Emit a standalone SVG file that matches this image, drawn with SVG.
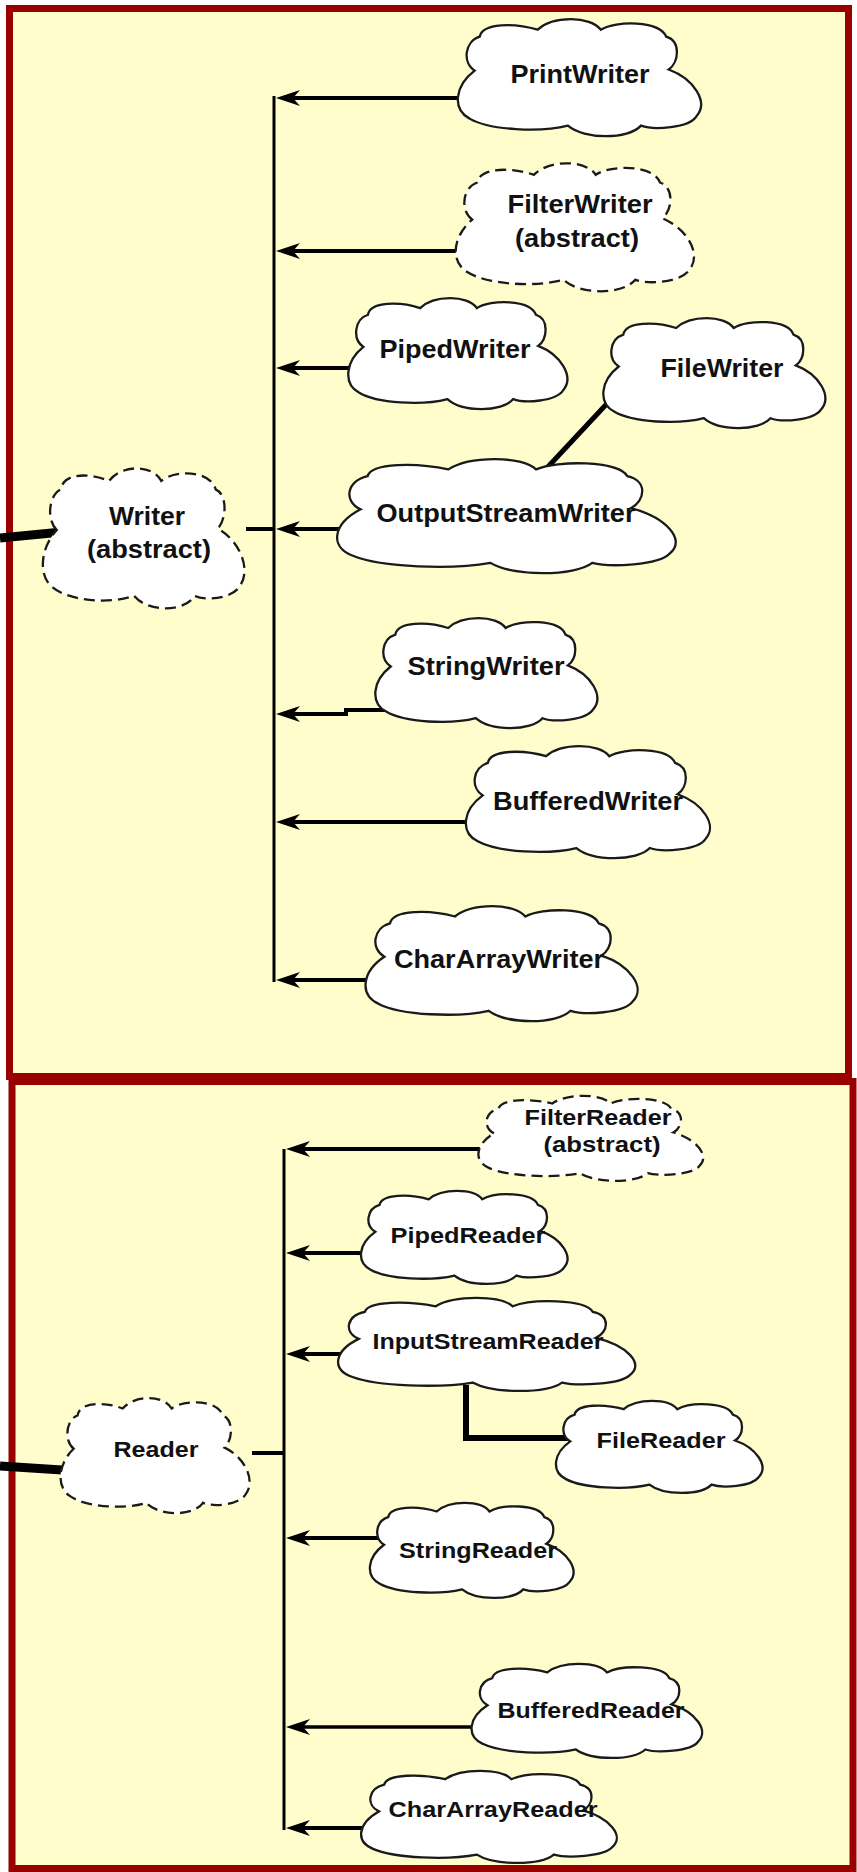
<svg xmlns="http://www.w3.org/2000/svg" xmlns:xlink="http://www.w3.org/1999/xlink" width="857" height="1872" viewBox="0 0 857 1872">
<style>
.panel{fill:#FFFDCC;stroke:#990000;stroke-width:7}
.cloud{fill:#ffffff;stroke:#1a1a1a;stroke-width:2.3}
.dash{stroke-dasharray:11 6}
.t{font-family:"Liberation Sans",Arial,sans-serif;font-weight:bold;font-size:25.5px;fill:#111;text-anchor:middle}
.tb{font-family:"Liberation Sans",Arial,sans-serif;font-weight:bold;font-size:22.5px;fill:#111;text-anchor:middle}
.ln{fill:none;stroke:#000;stroke-width:4}
.arr{fill:none;stroke:#000;stroke-width:4;marker-end:url(#ah)}
.trunk{fill:none;stroke:#000;stroke-width:3}
</style>
<defs>
<marker id="ah" markerUnits="userSpaceOnUse" viewBox="-26 -10 28 20" markerWidth="28" markerHeight="20" refX="-14" refY="0" orient="auto">
<path d="M0,0 L-24,-8 L-17,0 L-24,8 Z" fill="#000"/>
</marker>
<path id="c" vector-effect="non-scaling-stroke" d="M18,45 C8,38 10,20 22,16 C24,4 50,4 68,10 C80,-2 110,-2 118,10 C130,2 165,2 170,16 C182,20 180,38 172,44 C192,52 204,72 194,84 C188,94 160,96 150,92 C140,104 105,104 92,92 C70,98 30,96 14,86 C0,78 2,58 18,45 Z"/>
</defs>
<rect class="panel" x="9.5" y="8.5" width="839" height="1068"/>
<rect class="panel" x="12" y="1081.5" width="841" height="787"/>
<g id="connectors">
<path class="trunk" d="M274,96 V982"/>
<path class="arr" d="M477,98 H290"/>
<path class="arr" d="M475,251 H290"/>
<path class="arr" d="M368,368 H290"/>
<path class="arr" d="M354,529 H290"/>
<path class="arr" d="M420,710 H346 V714 H290"/>
<path class="arr" d="M485,822 H290"/>
<path class="arr" d="M384,980 H290"/>
<path class="ln" d="M246,529 H274"/>
<path class="ln" style="stroke-width:9" d="M0,538 L62,532"/>
<path class="ln" style="stroke-width:5" d="M545,470 L615,395"/>
<path class="trunk" d="M284,1149 V1830"/>
<path class="arr" d="M498,1149 H300"/>
<path class="arr" d="M381,1253 H300"/>
<path class="arr" d="M356,1354 H300"/>
<path class="arr" d="M395,1538 H300"/>
<path class="arr" style="stroke-width:3.5" d="M491,1727 H300"/>
<path class="arr" d="M380,1828 H300"/>
<path class="ln" d="M252,1453 H284"/>
<path class="ln" style="stroke-width:9" d="M0,1466 L62,1470"/>
<path class="ln" style="stroke-width:6" d="M466,1385 V1438 H580"/>
</g>
<g id="PrintWriter"><use xlink:href="#c" class="cloud" transform="translate(452,18) scale(1.26,1.17)"/><text class="t" x="580" y="83" textLength="139" lengthAdjust="spacingAndGlyphs">PrintWriter</text></g>
<g id="FilterWriter"><use xlink:href="#c" class="cloud dash" transform="translate(450,162) scale(1.235,1.28)"/><text class="t" x="580" y="213" textLength="145" lengthAdjust="spacingAndGlyphs">FilterWriter</text><text class="t" x="577" y="247" textLength="124" lengthAdjust="spacingAndGlyphs">(abstract)</text></g>
<g id="PipedWriter"><use xlink:href="#c" class="cloud" transform="translate(343,297) scale(1.135,1.11)"/><text class="t" x="455" y="358" textLength="151" lengthAdjust="spacingAndGlyphs">PipedWriter</text></g>
<g id="FileWriter"><use xlink:href="#c" class="cloud" transform="translate(598,317) scale(1.15,1.10)"/><text class="t" x="722" y="377" textLength="123" lengthAdjust="spacingAndGlyphs">FileWriter</text></g>
<g id="OutputStreamWriter"><use xlink:href="#c" class="cloud" transform="translate(329,458) scale(1.755,1.14)"/><text class="t" x="506" y="522" textLength="259" lengthAdjust="spacingAndGlyphs">OutputStreamWriter</text></g>
<g id="Writer"><use xlink:href="#c" class="cloud dash" transform="translate(38,467) scale(1.045,1.40)"/><text class="t" x="147" y="525" textLength="76" lengthAdjust="spacingAndGlyphs">Writer</text><text class="t" x="149" y="558" textLength="124" lengthAdjust="spacingAndGlyphs">(abstract)</text></g>
<g id="StringWriter"><use xlink:href="#c" class="cloud" transform="translate(370,617) scale(1.15,1.10)"/><text class="t" x="486" y="675" textLength="157" lengthAdjust="spacingAndGlyphs">StringWriter</text></g>
<g id="BufferedWriter"><use xlink:href="#c" class="cloud" transform="translate(460,745) scale(1.265,1.12)"/><text class="t" x="588" y="810" textLength="190" lengthAdjust="spacingAndGlyphs">BufferedWriter</text></g>
<g id="CharArrayWriter"><use xlink:href="#c" class="cloud" transform="translate(359,905) scale(1.41,1.15)"/><text class="t" x="499" y="968" textLength="210" lengthAdjust="spacingAndGlyphs">CharArrayWriter</text></g>
<g id="FilterReader"><use xlink:href="#c" class="cloud dash" transform="translate(473,1095) scale(1.165,0.85)"/><text class="tb" x="598" y="1125" textLength="147" lengthAdjust="spacingAndGlyphs">FilterReader</text><text class="tb" x="602" y="1152" textLength="117" lengthAdjust="spacingAndGlyphs">(abstract)</text></g>
<g id="PipedReader"><use xlink:href="#c" class="cloud" transform="translate(356,1190) scale(1.07,0.93)"/><text class="tb" x="468" y="1243" textLength="155" lengthAdjust="spacingAndGlyphs">PipedReader</text></g>
<g id="InputStreamReader"><use xlink:href="#c" class="cloud" transform="translate(331,1297) scale(1.54,0.93)"/><text class="tb" x="488" y="1349" textLength="231" lengthAdjust="spacingAndGlyphs">InputStreamReader</text></g>
<g id="FileReader"><use xlink:href="#c" class="cloud" transform="translate(551,1400) scale(1.07,0.92)"/><text class="tb" x="661" y="1448" textLength="129" lengthAdjust="spacingAndGlyphs">FileReader</text></g>
<g id="Reader"><use xlink:href="#c" class="cloud dash" transform="translate(56,1397) scale(0.98,1.15)"/><text class="tb" x="156" y="1457" textLength="85" lengthAdjust="spacingAndGlyphs">Reader</text></g>
<g id="StringReader"><use xlink:href="#c" class="cloud" transform="translate(365,1502) scale(1.055,0.95)"/><text class="tb" x="478" y="1558" textLength="158" lengthAdjust="spacingAndGlyphs">StringReader</text></g>
<g id="BufferedReader"><use xlink:href="#c" class="cloud" transform="translate(466,1663) scale(1.195,0.94)"/><text class="tb" x="591" y="1718" textLength="187" lengthAdjust="spacingAndGlyphs">BufferedReader</text></g>
<g id="CharArrayReader"><use xlink:href="#c" class="cloud" transform="translate(355,1770) scale(1.325,0.92)"/><text class="tb" x="493" y="1817" textLength="209" lengthAdjust="spacingAndGlyphs">CharArrayReader</text></g>
</svg>
